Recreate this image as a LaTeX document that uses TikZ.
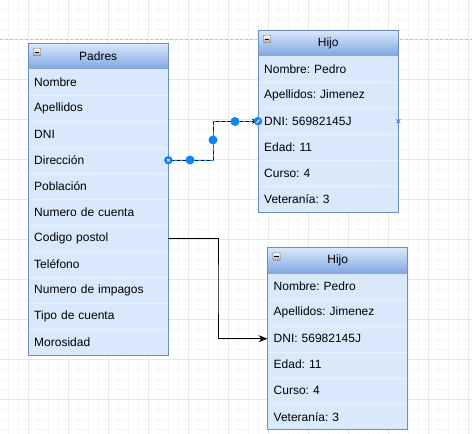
\documentclass[tikz,border=0pt]{standalone}
\usepackage{fontspec}
\setmainfont{Liberation Sans}
\frenchspacing
\usetikzlibrary{arrows.meta,calc}
\definecolor{rowfill}{HTML}{DAE8FC}
\definecolor{hdrbot}{HTML}{7EA6E0}
\definecolor{tblborder}{HTML}{6C8EBF}
\definecolor{sepline}{HTML}{E9F1FD}
\definecolor{selblue}{HTML}{1283F0}
\definecolor{gridminor}{HTML}{F5F5F5}
\definecolor{gridmajor}{HTML}{E8E8E8}
\definecolor{pagegray}{HTML}{C4C4C4}
\tikzset{
  txt/.style={font=\fontsize{12}{14}\selectfont},
  rowbox/.style={txt, anchor=north west, fill=rowfill, minimum height=26pt,
    text width=128pt, inner xsep=6pt, inner ysep=0pt, align=left},
  hdrbox/.style={txt, anchor=north west, top color=rowfill, bottom color=hdrbot,
    minimum height=26pt, text width=128pt, inner xsep=6pt, inner ysep=0pt, align=center},
  minusicon/.style={draw=black!55, rounded corners=1pt, top color=white, bottom color=black!35,
    minimum size=7.5pt, inner sep=0pt},
  seldot/.style={circle, fill=selblue, minimum size=9pt, inner sep=0pt},
  handle/.style={circle, fill=selblue, minimum size=8.5pt, inner sep=0pt},
  conn/.style={black, line width=0.8pt},
  selhl/.style={selblue, line width=0.8pt, dash pattern=on 3pt off 3pt},
  septhin/.style={sepline, line width=0.8pt},
  border/.style={tblborder, line width=0.9pt},
}
\begin{document}
\begin{tikzpicture}[x=1pt,y=-1pt]
\useasboundingbox (0,0) rectangle (472,434);
\fill[white] (0,0) rectangle (472,434);
% grid
\foreach \x in {8,18,...,468} \draw[gridminor, line width=0.8pt] (\x,0) -- (\x,434);
\foreach \y in {9,19,...,429} \draw[gridminor, line width=0.8pt] (0,\y) -- (472,\y);
\foreach \x in {28,68,...,468} \draw[gridmajor, line width=0.8pt] (\x,0) -- (\x,434);
\foreach \y in {39,79,...,429} \draw[gridmajor, line width=0.8pt] (0,\y) -- (472,\y);
\draw[pagegray, line width=0.8pt, dash pattern=on 3pt off 2pt] (0,39) -- (472,39);

% Padres table
\node[hdrbox] (p0) at (28,43) {Padres};
\foreach \t [count=\i] in {Nombre,Apellidos,DNI,Dirección,Población,Numero de cuenta,Codigo postol,Teléfono,Numero de impagos,Tipo de cuenta,Morosidad}
  \node[rowbox] (p\i) at (28,{43+26*\i}) {\t};
\foreach \i in {1,...,10} \draw[septhin] (p\i.south west) -- (p\i.south east);
\draw[border] (p0.north west) rectangle (p11.south east);
\node[minusicon] (p0m) at ($(p0.north west)+(9,9)$) {};
\draw[black, line width=1pt] ($(p0m.center)+(-2.3,0)$) -- ($(p0m.center)+(2.3,0)$);

% Hijo table 1
\node[hdrbox] (h0) at (258,30) {Hijo};
\foreach \t [count=\i] in {Nombre: Pedro,Apellidos: Jimenez,DNI: 56982145J,Edad: 11,Curso: 4,Veteranía: 3}
  \node[rowbox] (h\i) at (258,{30+26*\i}) {\t};
\foreach \i in {1,...,5} \draw[septhin] (h\i.south west) -- (h\i.south east);
\draw[border] (h0.north west) rectangle (h6.south east);
\node[minusicon] (h0m) at ($(h0.north west)+(9,9)$) {};
\draw[black, line width=1pt] ($(h0m.center)+(-2.3,0)$) -- ($(h0m.center)+(2.3,0)$);

% Hijo table 2
\node[hdrbox] (k0) at (267.5,247.5) {Hijo};
\foreach \t [count=\i] in {Nombre: Pedro,Apellidos: Jimenez,DNI: 56982145J,Edad: 11,Curso: 4,Veteranía: 3}
  \node[rowbox] (k\i) at (267.5,{247.5+26*\i}) {\t};
\foreach \i in {1,...,5} \draw[septhin] (k\i.south west) -- (k\i.south east);
\draw[border] (k0.north west) rectangle (k6.south east);
\node[minusicon] (k0m) at ($(k0.north west)+(9,9)$) {};
\draw[black, line width=1pt] ($(k0m.center)+(-2.3,0)$) -- ($(k0m.center)+(2.3,0)$);

% connector 1 (selected)
\coordinate (b1) at (213,140);
\draw[conn, -{Stealth[length=6pt,width=5pt]}] (p4.east) -| (b1) |- (h3.west);
\draw[selhl] (p4.east) -| (b1) |- ($(h3.west)+(-6,0)$);
\node[seldot] (d1) at (190,160) {};
\node[seldot] (d2) at (b1) {};
\node[seldot] (d3) at (235,121.5) {};
\node[handle] (s1) at (p4.east) {};
\draw[white, line width=0.7pt] ($(s1.center)+(-1.2,-1.2)$) -- ($(s1.center)+(1.2,1.2)$)
  ($(s1.center)+(-1.2,1.2)$) -- ($(s1.center)+(1.2,-1.2)$);
\node[handle] (e1) at (h3.west) {};
\draw[white, line width=0.8pt] ($(e1.center)+(-1.5,1.5)$) -- ($(e1.center)+(1.5,-1.5)$);
\draw[selblue, line width=0.7pt] ($(h3.east)+(-2,-2)$) -- ($(h3.east)+(2,2)$)
  ($(h3.east)+(-2,2)$) -- ($(h3.east)+(2,-2)$);

% connector 2
\coordinate (b2) at (218,290);
\draw[conn, -{Stealth[length=9pt,width=7pt]}] (p7.east) -| (b2) |- (k3.west);
\end{tikzpicture}
\end{document}
